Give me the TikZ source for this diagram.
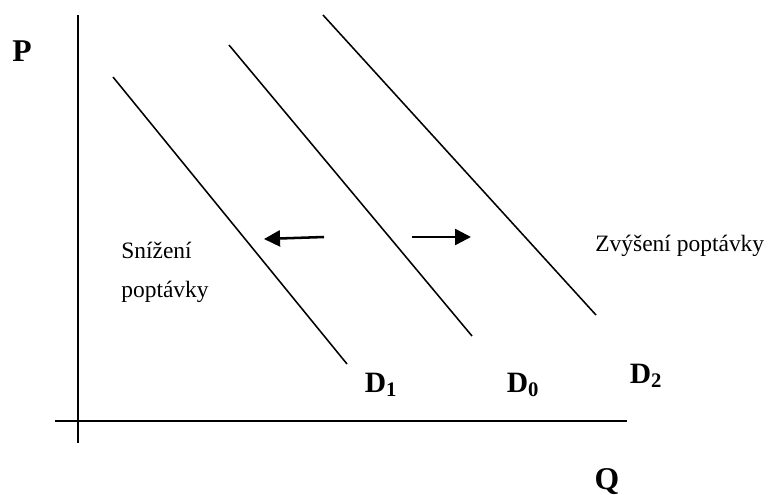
\documentclass[tikz,border=0pt]{standalone}
\usepackage{fontspec}
\setmainfont{Liberation Serif}
\usepackage{tikz}
\usetikzlibrary{positioning, arrows.meta}

\begin{document}
\begin{tikzpicture}[
    x=0.025cm, y=-0.025cm,
    axis/.style={line width=1.3pt},
    demand/.style={line width=1.1pt},
    shiftarrow/.style={line width=1.8pt, -{Triangle[length=0.4cm, width=0.4cm]}},
    axislabel/.style={font=\fontsize{22.5}{26}\selectfont\bfseries, inner sep=0pt, anchor=base},
    curvelabel/.style={font=\fontsize{21}{24}\selectfont\bfseries, inner sep=0pt, anchor=base},
    note/.style={font=\fontsize{16.7}{27.7}\selectfont, inner sep=0pt, align=left}
]
    \useasboundingbox (0,0) rectangle (768,494);

    % axes
    \coordinate (ptop) at (78,15);
    \coordinate (pbot) at (78,443);
    \coordinate (qleft) at (55,421);
    \coordinate (qright) at (627,421);
    \draw[axis] (ptop) -- (pbot);
    \draw[axis] (qleft) -- (qright);
    \node[axislabel] (plabel) at (22,61) {P};
    \node[axislabel] (qlabel) at (607,489) {Q};

    % demand curves
    \coordinate (d1top) at (113,77);
    \coordinate (d1bot) at (347,364);
    \coordinate (d0top) at (229,45);
    \coordinate (d0bot) at (472,336);
    \coordinate (d2top) at (323,15);
    \coordinate (d2bot) at (596,315);
    \draw[demand] (d1top) -- (d1bot);
    \draw[demand] (d0top) -- (d0bot);
    \draw[demand] (d2top) -- (d2bot);
    \node[curvelabel] (d1label) at (381,392) {D\textsubscript{1}};
    \node[curvelabel] (d0label) at (523,392) {D\textsubscript{0}};
    \node[curvelabel] (d2label) at (646,383) {D\textsubscript{2}};

    % shifts
    \coordinate (lefttail) at (324,237);
    \coordinate (lefthead) at (264,239);
    \coordinate (righttail) at (412,237);
    \coordinate (righthead) at (471,237);
    \draw[shiftarrow] (lefttail) -- (lefthead);
    \draw[shiftarrow] (righttail) -- (righthead);

    \node[note, anchor=base west] (decrease) at (121,297) {Snížení\\poptávky};
    \node[note, anchor=base west] (increase) at (595,251) {Zvýšení poptávky};
\end{tikzpicture}
\end{document}
